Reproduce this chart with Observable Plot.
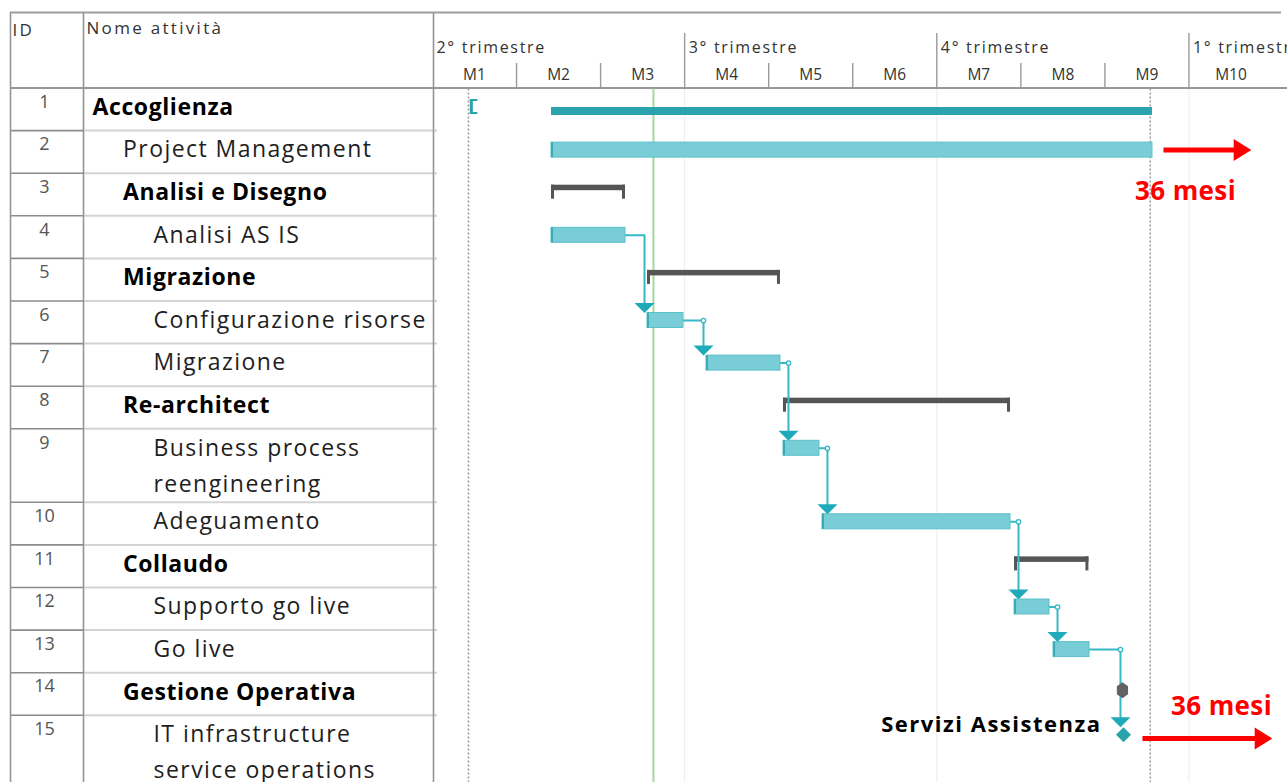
<!DOCTYPE html>
<html><head><meta charset="utf-8">
<script src="https://cdn.jsdelivr.net/npm/d3@7"></script>
<script src="https://cdn.jsdelivr.net/npm/@observablehq/plot@0.6"></script>
<style>
html,body{margin:0;padding:0;background:#fff;overflow:hidden;}
#chart svg{display:block;overflow:hidden;}
g[font-size="23"] text{letter-spacing:1.45px;}
g[font-size="23"][font-weight="bold"] text{letter-spacing:0.6px;}
g[font-size="17"] text{letter-spacing:2.3px;}
g[font-size="16"] text{letter-spacing:1.7px;}
g[font-size="22"] text{letter-spacing:1.5px;}
g[font-size="26"] text{letter-spacing:0.4px;}
</style></head>
<body><div id="chart"></div>
<script>
// ---------------- data ----------------
const taskIds = [1,2,3,4,5,6,7,8,9,10,11,12,13,14,15];
const taskNames = ["Accoglienza","Project Management","Analisi e Disegno","Analisi AS IS","Migrazione",
  "Configurazione risorse","Migrazione","Re-architect","Business process\nreengineering","Adeguamento",
  "Collaudo","Supporto go live","Go live","Gestione Operativa","IT infrastructure\nservice operations"];
const taskLevels = [0,1,1,2,1,2,2,1,2,2,1,2,2,1,2];
const taskKinds = ["project","task","summary","task","summary","task","task","summary","task","task",
  "summary","task","task","milestoneSummary","milestone"];
// start / end in months from the start of M1
const taskStart = [1.416,1.416,1.416,1.416,2.558,2.558,3.260,4.176,4.176,4.640,6.925,6.925,7.389,8.209,8.221];
const taskEnd   = [8.566,8.566,2.296,2.296,4.140,2.986,4.140,6.877,4.604,6.877,7.810,7.341,7.817,8.209,8.221];
const links = [[4,6],[6,7],[7,9],[9,10],[10,12],[12,13],[13,15]];
const months = ["M1","M2","M3","M4","M5","M6","M7","M8","M9","M10"];
const quarterLabels = ["2° trimestre","3° trimestre","4° trimestre","1° trimestre"];
const quarterStart = [0,3,6,9];
const projectStartMarker = 0.45;
const projectBounds = [0.428, 8.54];
const statusDate = 2.629;
const milestoneLabels = [{id: 15, text: "Servizi Assistenza"}];
const noteText = "36 mesi";
const noteRows = [2, 15];
const noteArrowStart = [8.697, 8.447];
const noteArrowEnd = [9.744, 9.994];
const noteLabelX = [8.959, 9.387];

// ---------------- layout ----------------
const W = 1287, H = 782;
const x0px = 432, monthPx = 84.05;
const px2t = px => (px - x0px) / monthPx;   // table layout helper
const headerBottom = 87.5, rowH = 42.6, extraLine = 30.9, lineGap = 36;
const rows = taskIds.map((id, i) => ({
  id, name: taskNames[i], level: taskLevels[i], kind: taskKinds[i],
  start: taskStart[i], end: taskEnd[i], lines: taskNames[i].split("\n")
}));
let acc = headerBottom;
for (const r of rows) { r.top = acc; r.c = acc + 19.5; acc += rowH + (r.lines.length - 1) * extraLine; }
const byId = new Map(rows.map(r => [r.id, r]));
const isBold = r => r.kind !== "task" && r.kind !== "milestone";
const nameLines = rows.flatMap(r => r.lines.map((t, j) => ({
  text: t, x: px2t(92 + r.level * 30.5), y: r.top + 19.5 + j * lineGap, bold: isBold(r)
})));

const teal = "#2aa3ad", barFill = "#78cdd6", barStroke = "#5cc0ca", link = "#36b8c6", arrowTeal = "#1eaab8";
const tasks = rows.filter(r => r.kind === "task");
const summaries = rows.filter(r => r.kind === "summary");
const project = rows.filter(r => r.kind === "project");
const tick = 3 / monthPx;

const connectors = [], heads = [], hooks = [];
links.forEach(([a, b], k) => {
  const p = byId.get(a), n = byId.get(b);
  const cx = Math.max(p.end + 8 / monthPx, n.start - 3 / monthPx);
  const topY = n.c - 7.5;
  connectors.push({k, x: p.end, y: p.c}, {k, x: cx, y: p.c}, {k, x: cx, y: topY - 8});
  heads.push({x: cx, y: topY});
  if (k > 0) hooks.push({x: cx, y: p.c});
});

const sym = pts => ({draw(ctx, size) {
  const r = Math.sqrt(size / Math.PI);
  pts.forEach(([px, py], i) => i ? ctx.lineTo(px * r, py * r) : ctx.moveTo(px * r, py * r));
  ctx.closePath();
}});
const triDown = sym([[-1, -0.5], [1, -0.5], [0, 0.5]]);
const triRight = sym([[-0.8, -1], [0.8, 0], [-0.8, 1]]);
const hexV = sym([[0, -1], [0.7, -0.5], [0.7, 0.5], [0, 1], [-0.7, 0.5], [-0.7, -0.5]]);
const diamond = sym([[0, -1], [1, 0], [0, 1], [-1, 0]]);

const notes = noteRows.map((id, i) => {
  const r = byId.get(id);
  const ay = r.kind === "milestone" ? r.c + 3.7 : r.c;
  return {x1: noteArrowStart[i], x2: noteArrowEnd[i], y: ay, lx: noteLabelX[i],
          ly: i === 0 ? ay + 42 : ay - 32};
});

const bodyTop = headerBottom + 1;
const chart = Plot.plot({
  width: W, height: H, margin: 0,
  x: {domain: [0, 1], range: [x0px, x0px + monthPx], axis: null},
  y: {domain: [0, H], range: [0, H], axis: null},
  style: {fontFamily: "'Open Sans', sans-serif", background: "#fff", overflow: "hidden"},
  marks: [
    // faint quarter lines in body
    Plot.ruleX(quarterStart.slice(1), {y1: bodyTop, y2: H, stroke: "#ececec", strokeWidth: 1}),
    // table row lines
    Plot.ruleY(rows.slice(1).map(r => r.top), {x1: px2t(83), x2: px2t(437), stroke: "#d4d4d4", strokeWidth: 2}),
    Plot.ruleY(rows.slice(1).map(r => r.top), {x1: px2t(10), x2: px2t(83), stroke: "#8c8c8c", strokeWidth: 1.6}),
    // columns
    Plot.ruleX([px2t(10), px2t(83), px2t(433)], {y1: 12, y2: H, stroke: "#959595", strokeWidth: 1.6}),
    Plot.ruleY([12], {x1: px2t(10), x2: px2t(1281), stroke: "#9d9d9d", strokeWidth: 2}),
    Plot.ruleY([headerBottom], {x1: px2t(10), x2: px2t(W), stroke: "#969696", strokeWidth: 2.2}),
    // timescale separators
    Plot.ruleX(quarterStart.slice(1), {y1: 33, y2: headerBottom, stroke: "#9a9a9a", strokeWidth: 1.4}),
    Plot.ruleX(d3.range(1, months.length).filter(m => !quarterStart.includes(m)), {y1: 63, y2: headerBottom, stroke: "#9a9a9a", strokeWidth: 1.4}),
    // header text
    Plot.text(["ID"], {x: px2t(12), y: 30, text: d => d, textAnchor: "start", fontSize: 17, fill: "#333"}),
    Plot.text(["Nome attività"], {x: px2t(86), y: 28, text: d => d, textAnchor: "start", fontSize: 17, fill: "#333"}),
    Plot.text(quarterLabels, {x: (d, i) => quarterStart[i], dx: 4, y: 47, text: d => d, textAnchor: "start", fontSize: 16, fill: "#333"}),
    Plot.text(months, {x: (d, i) => i + 0.5, y: 75, text: d => d, fontSize: 15.5, fill: "#333"}),
    // ids and names
    Plot.text(rows, {x: px2t(44), y: r => r.top + 14, text: r => String(r.id), fontSize: 18, fill: "#555"}),
    Plot.text(nameLines.filter(d => !d.bold), {x: "x", y: "y", text: "text", textAnchor: "start", fontSize: 23, fill: "#1e1e1e"}),
    Plot.text(nameLines.filter(d => d.bold), {x: "x", y: "y", text: "text", textAnchor: "start", fontSize: 23, fontWeight: "bold", fill: "#000"}),
    // project start / end and status date
    Plot.ruleX(projectBounds, {y1: bodyTop, y2: H, stroke: "#9a9a9a", strokeWidth: 1.5, strokeDasharray: "2,2"}),
    Plot.ruleX([statusDate], {y1: bodyTop, y2: H, stroke: "#a8d69f", strokeWidth: 2}),
    // project summary
    Plot.rect(project, {x1: "start", x2: "end", y1: r => r.c, y2: r => r.c + 8, fill: teal}),
    Plot.rect(project, {x1: () => projectStartMarker, x2: () => projectStartMarker + tick, y1: r => r.c - 8, y2: r => r.c + 7, fill: teal}),
    Plot.rect(project, {x1: () => projectStartMarker, x2: () => projectStartMarker + 2.5 * tick, y1: r => r.c - 8, y2: r => r.c - 6, fill: teal}),
    Plot.rect(project, {x1: () => projectStartMarker, x2: () => projectStartMarker + 2.5 * tick, y1: r => r.c + 5, y2: r => r.c + 7, fill: teal}),
    // summary brackets
    Plot.rect(summaries, {x1: "start", x2: "end", y1: r => r.c - 7.5, y2: r => r.c - 2, fill: "#555"}),
    Plot.rect(summaries, {x1: "start", x2: r => r.start + tick, y1: r => r.c - 7.5, y2: r => r.c + 6.5, fill: "#555"}),
    Plot.rect(summaries, {x1: r => r.end - tick, x2: "end", y1: r => r.c - 7.5, y2: r => r.c + 6.5, fill: "#555"}),
    // connectors
    Plot.line(connectors, {x: "x", y: "y", z: "k", stroke: link, strokeWidth: 2, curve: "linear"}),
    Plot.dot(hooks, {x: "x", y: "y", r: 2.2, fill: "#fff", stroke: link, strokeWidth: 1.3}),
    Plot.dot(heads, {x: "x", y: "y", dy: -5, symbol: triDown, r: 10, fill: arrowTeal, stroke: "none"}),
    // task bars
    Plot.rect(tasks, {x1: "start", x2: "end", y1: r => r.c - 7.5, y2: r => r.c + 7.5, fill: barFill, stroke: barStroke, strokeWidth: 1}),
    Plot.rect(tasks, {x1: "start", x2: r => r.start + 2 / monthPx, y1: r => r.c - 7.5, y2: r => r.c + 7.5, fill: "#3aabb6"}),
    // milestones
    Plot.dot(rows.filter(r => r.kind === "milestoneSummary"), {x: "start", y: r => r.c, dy: -2, symbol: hexV, r: 8, fill: "#636363", stroke: "none"}),
    Plot.dot(rows.filter(r => r.kind === "milestone"), {x: "start", y: r => r.c, symbol: diamond, r: 7.5, fill: "#2aa3ad", stroke: "none"}),
    Plot.text(milestoneLabels, {x: d => byId.get(d.id).start, dx: -22, y: d => byId.get(d.id).top + 10, text: "text", textAnchor: "end", fontSize: 22, fontWeight: "bold", fill: "#000"}),
    // red duration notes
    Plot.link(notes, {x1: "x1", x2: d => d.x2 - 14 / monthPx, y1: "y", y2: "y", stroke: "#ff0000", strokeWidth: 5}),
    Plot.dot(notes, {x: "x2", y: "y", dx: -9, symbol: triRight, r: 11, fill: "#ff0000", stroke: "none"}),
    Plot.text(notes, {x: "lx", y: "ly", text: () => noteText, fontSize: 26, fontWeight: "bold", fill: "#ff0000"})
  ]
});
document.getElementById("chart").appendChild(chart);
</script>
</body></html>
